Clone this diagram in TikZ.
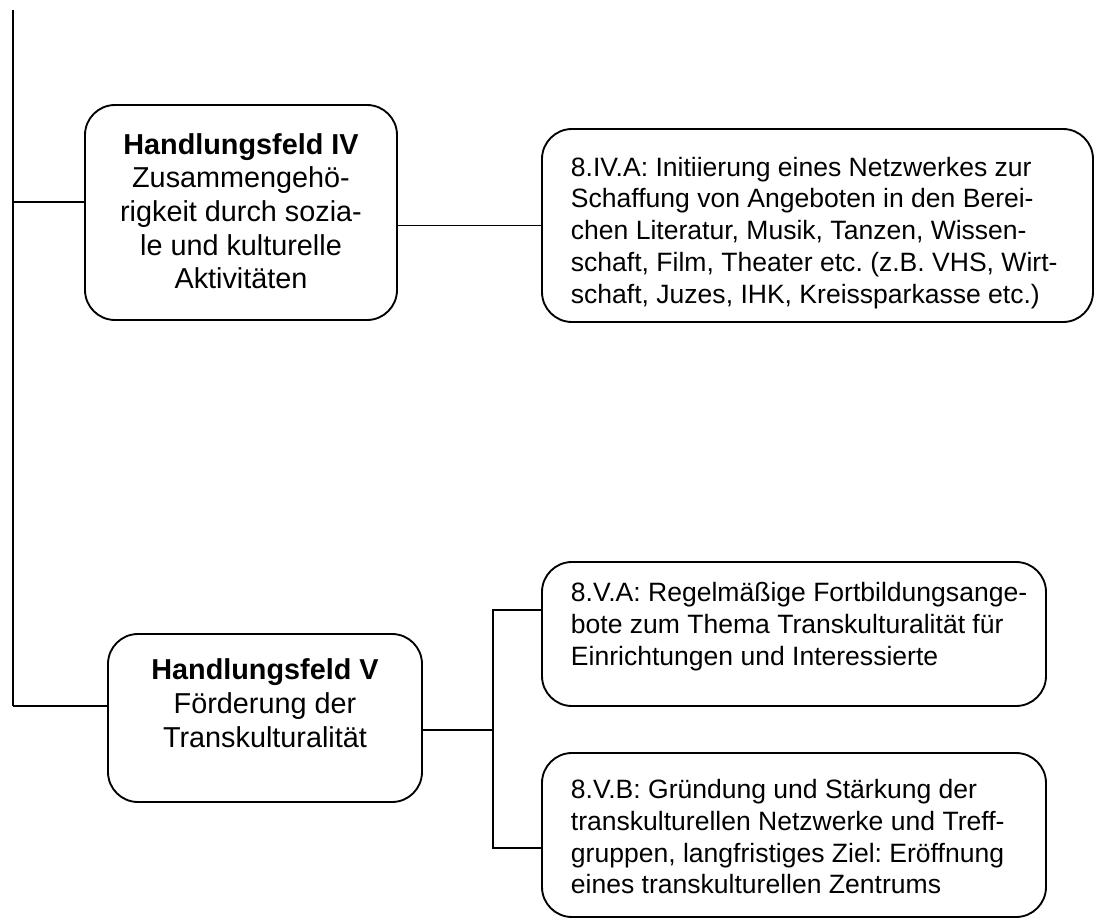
\documentclass[tikz,border=0pt]{standalone}
\usepackage{fontspec}
\setmainfont{Liberation Sans}
\frenchspacing
\begin{document}
\begin{tikzpicture}[x=0.75pt,y=-0.75pt, line width=1.4pt,
  box/.style={draw, rounded corners=22.5pt, inner sep=0pt},
  hf/.style={align=center, inner sep=0pt, anchor=north, font=\fontsize{21.6}{25.2}\selectfont},
  mt/.style={align=left, inner sep=0pt, anchor=north west, font=\fontsize{19.9}{23.8}\selectfont}]
\useasboundingbox (0,0) rectangle (1097,918);

% boxes
\node[box, minimum width=234pt, minimum height=161.25pt] (b4) at (241,212.5) {};
\node[box, minimum width=413.25pt, minimum height=144.75pt] (bA) at (817.5,225.5) {};
\node[box, minimum width=235.5pt, minimum height=126pt] (b5) at (265,718) {};
\node[box, minimum width=378pt, minimum height=108pt] (bVA) at (794,634) {};
\node[box, minimum width=378pt, minimum height=123pt] (bVB) at (794,835) {};

% texts
\node[hf] (t4) at (241,132.5) {\textbf{Handlungsfeld IV}\\Zusammengehö-\\rigkeit durch sozia-\\le und kulturelle\\Aktivitäten};
\node[hf, font=\fontsize{21.6}{25.5}\selectfont] (t5) at (265,658) {\textbf{Handlungsfeld V}\\Förderung der\\Transkulturalität};
\node[mt] (tA) at (570,156) {8.IV.A: Initiierung eines Netzwerkes zur\\Schaffung von Angeboten in den Berei-\\chen Literatur, Musik, Tanzen, Wissen-\\schaft, Film, Theater etc. (z.B. VHS, Wirt-\\schaft, Juzes, IHK, Kreissparkasse etc.)};
\node[mt] (tVA) at (570,581.5) {8.V.A: Regelmäßige Fortbildungsange-\\bote zum Thema Transkulturalität für\\Einrichtungen und Interessierte};
\node[mt] (tVB) at (570,778.5) {8.V.B: Gründung und Stärkung der\\transkulturellen Netzwerke und Treff-\\gruppen, langfristiges Ziel: Eröffnung\\eines transkulturellen Zentrums};

% connectors
\coordinate (top) at (13,10);
\coordinate (bot) at (13,706);
\coordinate (j4) at (13,202);
\coordinate (br) at (493,730);
\coordinate (brA) at (493,610);
\coordinate (brB) at (493,848);
\draw (top) -- (bot);
\draw (j4) -- (b4.west |- j4);
\draw (bot) -- (b5.west |- bot);
\draw (b4.east |- bA.west) -- (bA.west);
\draw (b5.east |- br) -- (br);
\draw (bVA.west |- brA) -- (brA) -- (brB) -- (bVB.west |- brB);
\end{tikzpicture}
\end{document}
